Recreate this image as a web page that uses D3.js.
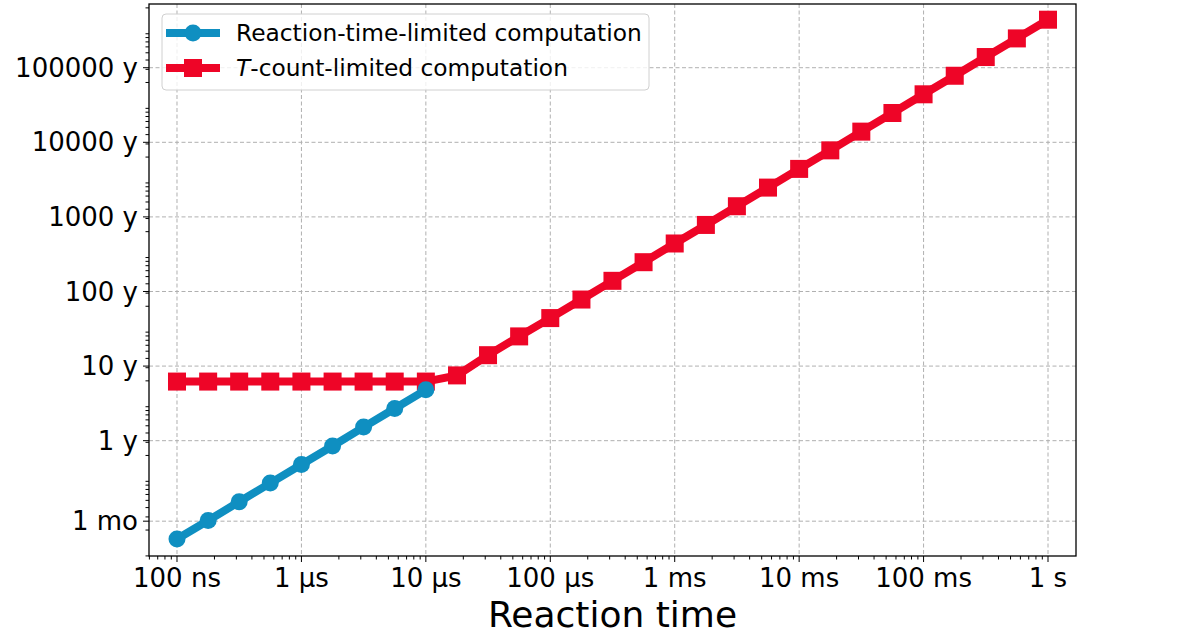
<!DOCTYPE html>
<html>
<head>
<meta charset="utf-8">
<script src="https://cdn.jsdelivr.net/npm/d3@7"></script>
<style>
  body { margin: 0; background: #fff; }
  svg { font-family: "DejaVu Sans", sans-serif; }
</style>
</head>
<body>
<div id="graph"></div>
<script>
// reaction time in seconds, 4 points per decade
var reactionTimes = [1e-7, 1.78e-7, 3.16e-7, 5.62e-7, 1e-6, 1.78e-6, 3.16e-6, 5.62e-6, 1e-5,
  1.78e-5, 3.16e-5, 5.62e-5, 1e-4, 1.78e-4, 3.16e-4, 5.62e-4, 1e-3, 1.78e-3, 3.16e-3, 5.62e-3,
  1e-2, 1.78e-2, 3.16e-2, 5.62e-2, 1e-1, 0.178, 0.316, 0.562, 1]

// computation time in years
var reactionLimited = [0.048, 0.085, 0.152, 0.27, 0.48, 0.85, 1.52, 2.7, 4.8]
var tcountLimited = [6.2, 6.2, 6.2, 6.2, 6.2, 6.2, 6.2, 6.2, 6.2,
  7.5, 14, 25, 44, 78, 139, 247, 440, 780, 1390, 2470, 4400, 7800,
  13900, 24700, 44000, 78000, 139000, 247000, 440000]

var xTicks = [1e-7, 1e-6, 1e-5, 1e-4, 1e-3, 1e-2, 1e-1, 1]
var xTickLabels = ['100 ns', '1 µs', '10 µs', '100 µs', '1 ms', '10 ms', '100 ms', '1 s']
var yTicks = [1/12, 1, 10, 100, 1000, 10000, 100000]
var yTickLabels = ['1 mo', '1 y', '10 y', '100 y', '1000 y', '10000 y', '100000 y']

var blue = '#0f8fc1', red = '#ee0527'
var secPerYear = 31557600

var width = 1196, height = 635
var m = {left: 149, right: 1076, top: 4, bottom: 556}

var svg = d3.select('#graph').append('svg').attr('width', width).attr('height', height)

var x = d3.scaleLog().domain([1e-7 / Math.pow(10, 0.225), Math.pow(10, 0.225)]).range([m.left, m.right])
var y = d3.scaleLog().domain([Math.pow(10, -1.546), Math.pow(10, 5.854)]).range([m.bottom, m.top])

// grid
var grid = svg.append('g').attr('stroke', '#b0b0b0').attr('stroke-width', 1).attr('stroke-dasharray', '4,2.5')
grid.selectAll('line.gx').data(xTicks).join('line').attr('class', 'gx')
  .attr('x1', d => x(d)).attr('x2', d => x(d)).attr('y1', m.top).attr('y2', m.bottom)
grid.selectAll('line.gy').data(yTicks).join('line').attr('class', 'gy')
  .attr('y1', d => y(d)).attr('y2', d => y(d)).attr('x1', m.left).attr('x2', m.right)

// minor ticks (in seconds on both axes)
var xMinor = [], yMinor = []
d3.range(-9, 1).forEach(function(n){
  d3.range(2, 10).forEach(k => xMinor.push(k * Math.pow(10, n)))
})
d3.range(5, 14).forEach(function(n){
  d3.range(2, 10).forEach(k => yMinor.push(k * Math.pow(10, n) / secPerYear))
})
var xd = x.domain(), yd = y.domain()
xMinor = xMinor.filter(d => d >= xd[0] && d <= xd[1])
yMinor = yMinor.filter(d => d >= yd[0] && d <= yd[1])

var ticks = svg.append('g').attr('stroke', '#000').attr('stroke-width', 1)
ticks.selectAll('line.xm').data(xMinor).join('line').attr('class', 'xm')
  .attr('x1', d => x(d)).attr('x2', d => x(d)).attr('y1', m.bottom).attr('y2', m.bottom + 3.5)
ticks.selectAll('line.xM').data(xTicks).join('line').attr('class', 'xM')
  .attr('x1', d => x(d)).attr('x2', d => x(d)).attr('y1', m.bottom).attr('y2', m.bottom + 6)
ticks.selectAll('line.ym').data(yMinor).join('line').attr('class', 'ym')
  .attr('y1', d => y(d)).attr('y2', d => y(d)).attr('x1', m.left).attr('x2', m.left - 3.5)
ticks.selectAll('line.yM').data(yTicks).join('line').attr('class', 'yM')
  .attr('y1', d => y(d)).attr('y2', d => y(d)).attr('x1', m.left).attr('x2', m.left - 6)

svg.selectAll('text.xl').data(xTicks).join('text').attr('class', 'xl')
  .attr('x', d => x(d)).attr('y', m.bottom + 31)
  .attr('text-anchor', 'middle').attr('font-size', 26)
  .text((d, i) => xTickLabels[i])
svg.selectAll('text.yl').data(yTicks).join('text').attr('class', 'yl')
  .attr('x', m.left - 11).attr('y', d => y(d)).attr('dy', '0.35em')
  .attr('text-anchor', 'end').attr('font-size', 26)
  .text((d, i) => yTickLabels[i])

svg.append('text').attr('x', (m.left + m.right) / 2).attr('y', 627)
  .attr('text-anchor', 'middle').attr('font-size', 36).text('Reaction time')

// series
var line = d3.line().x(d => x(d[0])).y(d => y(d[1]))
var blueData = reactionLimited.map((v, i) => [reactionTimes[i], v])
var redData = tcountLimited.map((v, i) => [reactionTimes[i], v])

var plot = svg.append('g')
plot.append('path').datum(redData).attr('d', line)
  .attr('fill', 'none').attr('stroke', red).attr('stroke-width', 8)
plot.selectAll('rect').data(redData).join('rect')
  .attr('x', d => x(d[0]) - 9).attr('y', d => y(d[1]) - 9)
  .attr('width', 18).attr('height', 18).attr('fill', red)
plot.append('path').datum(blueData).attr('d', line)
  .attr('fill', 'none').attr('stroke', blue).attr('stroke-width', 8)
plot.selectAll('circle').data(blueData).join('circle')
  .attr('cx', d => x(d[0])).attr('cy', d => y(d[1])).attr('r', 8.5).attr('fill', blue)

// frame
svg.append('rect').attr('x', m.left).attr('y', m.top).attr('width', m.right - m.left).attr('height', m.bottom - m.top)
  .attr('fill', 'none').attr('stroke', '#000').attr('stroke-width', 1.3)

// legend
var lg = svg.append('g')
lg.append('rect').attr('x', 162).attr('y', 14).attr('width', 487).attr('height', 76).attr('rx', 4)
  .attr('fill', 'rgba(255,255,255,0.8)').attr('stroke', '#d0d0d0').attr('stroke-width', 1)
var rows = [{name: 'Reaction-time-limited computation', color: blue, shape: 'circle', y: 33},
  {name: 'T-count-limited computation', color: red, shape: 'square', y: 68}]
rows.forEach(function(r){
  lg.append('line').attr('x1', 166).attr('x2', 220).attr('y1', r.y).attr('y2', r.y)
    .attr('stroke', r.color).attr('stroke-width', 8)
  if (r.shape == 'circle')
    lg.append('circle').attr('cx', 193).attr('cy', r.y).attr('r', 8.5).attr('fill', r.color)
  else
    lg.append('rect').attr('x', 184).attr('y', r.y - 9).attr('width', 18).attr('height', 18).attr('fill', r.color)
  var t = lg.append('text').attr('x', 236).attr('y', r.y).attr('dy', '0.36em').attr('font-size', 23.3)
  if (r.shape == 'square') {
    t.append('tspan').attr('font-style', 'italic').text('T')
    t.append('tspan').text('-count-limited computation')
  } else t.text(r.name)
})
</script>
</body>
</html>
